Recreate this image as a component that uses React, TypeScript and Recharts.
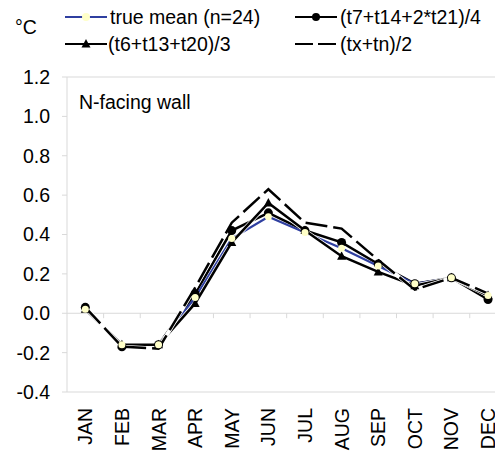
import React from "react"
import { LineChart, Line, XAxis, YAxis, ReferenceLine } from "recharts"

const months = ["JAN", "FEB", "MAR", "APR", "MAY", "JUN", "JUL", "AUG", "SEP", "OCT", "NOV", "DEC"]
const trueMean = [0.02, -0.16, -0.16, 0.08, 0.38, 0.49, 0.41, 0.33, 0.24, 0.15, 0.18, 0.09]
const t7t14t21 = [0.03, -0.17, -0.16, 0.1, 0.42, 0.51, 0.42, 0.36, 0.25, 0.15, 0.18, 0.07]
const t6t13t20 = [0.02, -0.16, -0.16, 0.05, 0.36, 0.56, 0.42, 0.29, 0.21, 0.14, 0.18, 0.09]
const txtn = [0.03, -0.17, -0.18, 0.13, 0.46, 0.63, 0.46, 0.43, 0.27, 0.12, 0.18, 0.1]
const yTicks = [-0.4, -0.2, 0, 0.2, 0.4, 0.6, 0.8, 1.0, 1.2]

const data = months.map((m, i) => ({
  idx: i,
  month: m,
  trueMean: trueMean[i],
  t7: t7t14t21[i],
  t6: t6t13t20[i],
  txtn: txtn[i],
}))

const FONT = "'Liberation Sans', Arial, sans-serif"
const FS = 19.5
const GRID = "#d9d9d9"
const BLUE = "#2f3fa0"

const MonthTick = (props: any) => {
  const { x, y, payload } = props
  return (
    <text
      x={x}
      y={y}
      dy="0.36em"
      transform={`rotate(-90, ${x}, ${y})`}
      textAnchor="end"
      fontSize={FS}
      fontFamily={FONT}
      fill="#000"
    >
      {months[payload.value]}
    </text>
  )
}

const Triangle = (props: any) => {
  const { cx, cy, index } = props
  if (cx == null || cy == null) return <g key={index} />
  return <path key={index} d={`M${cx},${cy - 5} L${cx + 4.5},${cy + 3.5} L${cx - 4.5},${cy + 3.5} Z`} fill="#000" />
}

function Legend() {
  return (
    <svg width={495} height={70} style={{ position: "absolute", left: 0, top: 0 }} fontFamily={FONT}>
      <text x={15} y={34} fontSize={FS}>°C</text>
      {/* row 1 */}
      <line x1={65} y1={17} x2={107} y2={17} stroke={BLUE} strokeWidth={2} />
      <circle cx={86} cy={17} r={4} fill="#ffffc8" />
      <text x={110} y={24} fontSize={FS}>true mean (n=24)</text>
      <line x1={295} y1={17} x2={337} y2={17} stroke="#000" strokeWidth={2} />
      <circle cx={316} cy={17} r={4} fill="#000" />
      <text x={340} y={24} fontSize={FS}>(t7+t14+2*t21)/4</text>
      {/* row 2 */}
      <line x1={65} y1={44} x2={107} y2={44} stroke="#000" strokeWidth={2} />
      <path d="M86,39 L90.5,47.5 L81.5,47.5 Z" fill="#000" />
      <text x={108} y={51} fontSize={FS}>(t6+t13+t20)/3</text>
      <line x1={295} y1={44} x2={337} y2={44} stroke="#000" strokeWidth={2} strokeDasharray="18 5" />
      <text x={340} y={51} fontSize={FS}>(tx+tn)/2</text>
    </svg>
  )
}

export default function App() {
  return (
    <div style={{ position: "absolute", left: 0, top: 0, width: 495, height: 452, background: "#fff" }}>
      <LineChart width={495} height={452} data={data} margin={{ top: 77, right: 0, left: 0, bottom: 0 }}>
        <XAxis
          dataKey="idx"
          type="number"
          domain={[-0.5, 11.19]}
          allowDataOverflow
          ticks={months.map((_, i) => i)}
          tick={<MonthTick />}
          tickLine={false}
          tickSize={0}
          tickMargin={16}
          axisLine={{ stroke: GRID }}
          height={60}
          interval={0}
        />
        <YAxis
          type="number"
          domain={[-0.4, 1.2]}
          ticks={yTicks}
          tickFormatter={(v: number) => v.toFixed(1)}
          width={67}
          tick={{ fontSize: FS, fontFamily: FONT, fill: "#000" }}
          tickLine={{ stroke: GRID }}
          tickSize={5}
          tickMargin={12}
          axisLine={{ stroke: GRID }}
          interval={0}
        />
        <ReferenceLine y={1.2} stroke={GRID} />
        <ReferenceLine y={0} stroke={GRID} />
        {months.slice(0, 11).map((_, i) => (
          <ReferenceLine
            key={"b" + i}
            segment={[{ x: i + 0.5, y: 0 }, { x: i + 0.5, y: -0.025 }]}
            stroke={GRID}
          />
        ))}

        <Line dataKey="t7" stroke="#fff" strokeWidth={4} dot={false} activeDot={false} isAnimationActive={false} legendType="none" />
        <Line dataKey="t7" stroke="#000" strokeWidth={2.5} isAnimationActive={false}
          dot={{ r: 4.5, fill: "#000", stroke: "none" }} activeDot={false} />

        <Line dataKey="trueMean" stroke={BLUE} strokeWidth={2.2} isAnimationActive={false}
          dot={false} activeDot={false} />

        <Line dataKey="t6" stroke="#fff" strokeWidth={4} dot={false} activeDot={false} isAnimationActive={false} legendType="none" />
        <Line dataKey="t6" stroke="#000" strokeWidth={2.5} isAnimationActive={false}
          dot={<Triangle />} activeDot={false} />

        <Line dataKey="txtn" stroke="#fff" strokeWidth={4} dot={false} activeDot={false} isAnimationActive={false} legendType="none" />
        <Line dataKey="txtn" stroke="#000" strokeWidth={2.5} strokeDasharray="22 6" isAnimationActive={false}
          dot={false} activeDot={false} />

        <Line dataKey="trueMean" stroke="none" isAnimationActive={false} legendType="none"
          dot={{ r: 3.5, fill: "#ffffc8", stroke: "none" }} activeDot={false} />
      </LineChart>
      <Legend />
      <svg width={200} height={30} style={{ position: "absolute", left: 0, top: 85 }} fontFamily={FONT}>
        <text x={79} y={24} fontSize={FS}>N-facing wall</text>
      </svg>
    </div>
  )
}
